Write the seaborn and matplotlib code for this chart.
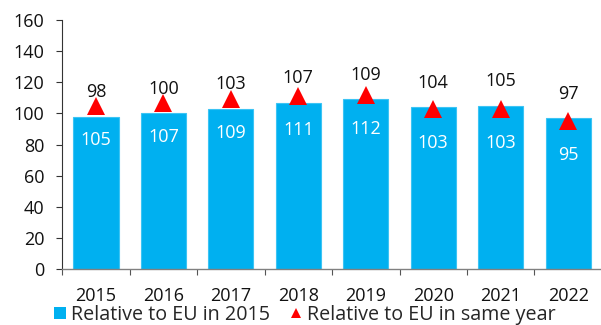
import matplotlib
matplotlib.use("Agg")
import matplotlib.pyplot as plt
from matplotlib.lines import Line2D
from matplotlib.ticker import FixedLocator
import seaborn as sns
import pandas as pd

years = ["2015", "2016", "2017", "2018", "2019", "2020", "2021", "2022"]
rel_eu_2015 = [98, 100, 103, 107, 109, 104, 105, 97]
rel_eu_same_year = [105, 107, 109, 111, 112, 103, 103, 95]
series_names = ["Relative to EU in 2015", "Relative to EU in same year"]
y_ticks = [0, 20, 40, 60, 80, 100, 120, 140, 160]

BLUE = "#00B0F0"
RED = "#FF0000"

df = pd.DataFrame({"year": years, "base": rel_eu_2015, "same": rel_eu_same_year})

sns.set_theme(style="white")
plt.rcParams["font.family"] = ["Open Sans", "DejaVu Sans"]

FS = 13
LEG_FS = 14.2

fig = plt.figure(figsize=(6.01, 3.25), dpi=100)
ax = fig.add_axes([0.1035, 0.1715, 0.898, 0.767])

sns.barplot(data=df, x="year", y="base", order=years, color=BLUE, width=0.67,
            edgecolor="#3cc4f4", linewidth=0.8, saturation=1, ax=ax)
sns.pointplot(data=df, x="year", y="same", order=years, color=RED,
              markers="^", linestyle="none", errorbar=None,
              markersize=13, markeredgewidth=0, ax=ax, zorder=4)

# value labels: bar values above the bars, triangle values inside in white
for i, (b, s) in enumerate(zip(rel_eu_2015, rel_eu_same_year)):
    ax.annotate(str(b), (i, b), xytext=(0, 17.5), textcoords="offset points",
                ha="center", va="center", fontsize=FS, color="#111111", zorder=5)
    ax.annotate(str(s), (i, s), xytext=(0, -24.5), textcoords="offset points",
                ha="center", va="center", fontsize=FS, color="white", zorder=5)

ax.set_ylim(0, 160)
ax.set_xlim(-0.5, len(years) - 0.5)
ax.set_yticks(y_ticks)
ax.set_xlabel("")
ax.set_ylabel("")

ax.tick_params(axis="y", which="major", length=4, width=0.8, color="#333333",
               labelsize=FS, pad=9, left=True, labelcolor="#111111")
ax.tick_params(axis="x", which="major", length=0, labelsize=FS, pad=13,
               labelcolor="#111111")
ax.xaxis.set_minor_locator(FixedLocator([i - 0.5 for i in range(len(years) + 1)]))
ax.tick_params(axis="x", which="minor", length=4, width=0.8, color="#555555",
               bottom=True)

for side in ("top", "right"):
    ax.spines[side].set_visible(False)
ax.spines["left"].set_color("#333333")
ax.spines["left"].set_linewidth(0.8)
ax.spines["bottom"].set_color("#808080")
ax.spines["bottom"].set_linewidth(1.0)
ax.grid(False)

handles = [
    Line2D([], [], marker="s", linestyle="none", markersize=8.6,
           markerfacecolor=BLUE, markeredgewidth=0),
    Line2D([], [], marker="^", linestyle="none", markersize=6.5,
           markerfacecolor=RED, markeredgewidth=0),
]
fig.legend(handles, series_names, loc="lower left", bbox_to_anchor=(0.0915, 0.0),
           ncol=2, frameon=False, fontsize=LEG_FS, handlelength=0.5,
           handletextpad=0.3, columnspacing=1.1, borderaxespad=0, borderpad=0)

fig.savefig("out.png", dpi=100)
